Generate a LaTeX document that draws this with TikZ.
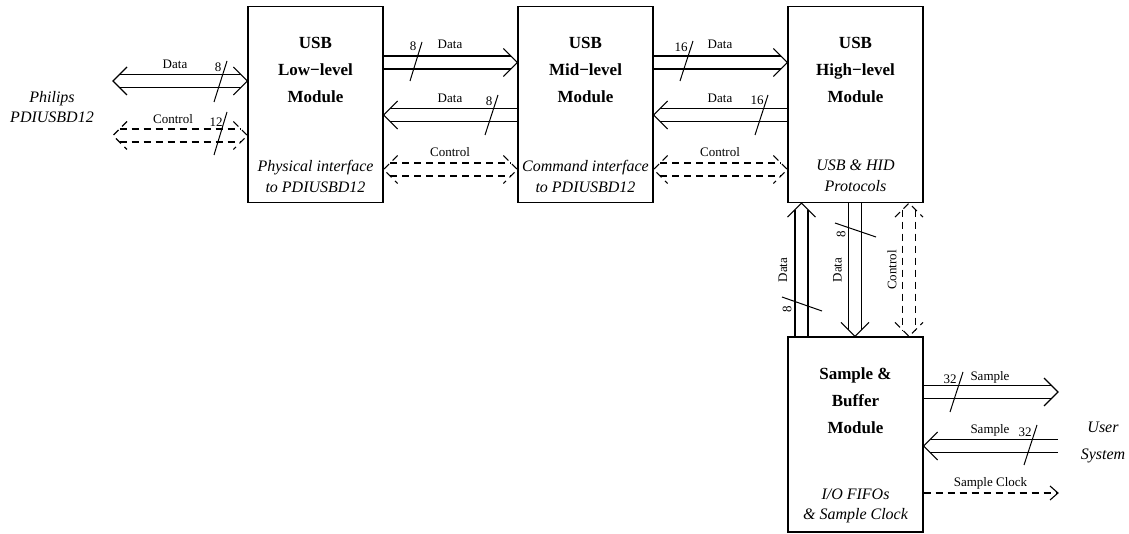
\documentclass[tikz,border=0pt]{standalone}
\usepackage{fontspec}
\setmainfont{Liberation Serif}
\usetikzlibrary{calc}
\tikzset{
  box/.style={draw, line width=1.1pt, minimum width=135pt, minimum height=196pt, inner sep=0pt},
  ln/.style={line width=1.1pt},
  dsh/.style={line width=1.1pt, dash pattern=on 7pt off 5pt},
  lbl/.style={font=\fontsize{13}{15}\selectfont, inner sep=0pt},
  ttl/.style={font=\fontsize{17}{27}\selectfont\bfseries, align=center, inner sep=0pt},
  sub/.style={font=\fontsize{16}{21}\selectfont\itshape, align=center, inner sep=0pt},
  slash/.style={line width=1pt},
}
% double (hollow) arrows: tail #2, tip #3
\newcommand\dR[3][ln]{%
  \draw[#1] ($(#2)+(0,-6.5)$) -- ($(#3)+(-6.5,-6.5)$);
  \draw[#1] ($(#2)+(0,6.5)$) -- ($(#3)+(-6.5,6.5)$);
  \draw[#1] ($(#3)+(-14,-14)$) -- (#3) -- ($(#3)+(-14,14)$);}
\newcommand\dL[3][ln]{%
  \draw[#1] ($(#2)+(0,-6.5)$) -- ($(#3)+(6.5,-6.5)$);
  \draw[#1] ($(#2)+(0,6.5)$) -- ($(#3)+(6.5,6.5)$);
  \draw[#1] ($(#3)+(14,-14)$) -- (#3) -- ($(#3)+(14,14)$);}
\newcommand\dLR[3][ln]{%
  \draw[#1] ($(#2)+(6.5,-6.5)$) -- ($(#3)+(-6.5,-6.5)$);
  \draw[#1] ($(#2)+(6.5,6.5)$) -- ($(#3)+(-6.5,6.5)$);
  \draw[#1] ($(#2)+(14,-14)$) -- (#2) -- ($(#2)+(14,14)$);
  \draw[#1] ($(#3)+(-14,-14)$) -- (#3) -- ($(#3)+(-14,14)$);}
\newcommand\dU[3][ln]{%
  \draw[#1] ($(#2)+(-6.5,0)$) -- ($(#3)+(-6.5,6.5)$);
  \draw[#1] ($(#2)+(6.5,0)$) -- ($(#3)+(6.5,6.5)$);
  \draw[#1] ($(#3)+(-14,14)$) -- (#3) -- ($(#3)+(14,14)$);}
\newcommand\dD[3][ln]{%
  \draw[#1] ($(#2)+(-6.5,0)$) -- ($(#3)+(-6.5,-6.5)$);
  \draw[#1] ($(#2)+(6.5,0)$) -- ($(#3)+(6.5,-6.5)$);
  \draw[#1] ($(#3)+(-14,-14)$) -- (#3) -- ($(#3)+(14,-14)$);}
\newcommand\dUD[3][ln]{%
  \draw[#1] ($(#2)+(-6.5,6.5)$) -- ($(#3)+(-6.5,-6.5)$);
  \draw[#1] ($(#2)+(6.5,6.5)$) -- ($(#3)+(6.5,-6.5)$);
  \draw[#1] ($(#2)+(-14,14)$) -- (#2) -- ($(#2)+(14,14)$);
  \draw[#1] ($(#3)+(-14,-14)$) -- (#3) -- ($(#3)+(14,-14)$);}
\begin{document}
\begin{tikzpicture}[x=1pt,y=-1pt]
\useasboundingbox (0,0) rectangle (1129,534);
% boxes
\node[box] (b1) at (315.5,104.5) {};
\node[box] (b2) at (585.5,104.5) {};
\node[box] (b3) at (855.5,104.5) {};
\node[box, minimum height=195pt] (b4) at (855.5,434.5) {};
% box texts
\node[ttl] (t1) at (315.5,70) {USB\\Low−level\\Module};
\node[sub] (s1) at (315.5,176) {Physical interface\\to PDIUSBD12};
\node[ttl] (t2) at (585.5,70) {USB\\Mid−level\\Module};
\node[sub] (s2) at (585.5,176) {Command interface\\to PDIUSBD12};
\node[ttl] (t3) at (855.5,70) {USB\\High−level\\Module};
\node[sub] (s3) at (855.5,176) {USB \& HID\\Protocols};
\node[ttl] (t4) at (855.5,401) {Sample \&\\Buffer\\Module};
\node[sub, font=\fontsize{16}{20}\selectfont\itshape] (s4) at (855.5,506) {I/O FIFOs\\\& Sample Clock};
% external texts
\node[sub, font=\fontsize{16}{20}\selectfont\itshape] (ph) at (52,107) {Philips\\PDIUSBD12};
\node[sub, font=\fontsize{16}{27}\selectfont\itshape] (us) at (1103,442) {User\\System};
% level coordinates
\coordinate (yA) at (0,62.5);
\coordinate (yB) at (0,115);
\coordinate (yC) at (0,169.5);
\coordinate (xU) at (801.5,0);
\coordinate (xD) at (855,0);
\coordinate (xC) at (909,0);
\coordinate (yO) at (0,392);
\coordinate (yI) at (0,446);
\coordinate (yK) at (0,493);
% left connectors
\coordinate (L1) at (113,81);   \coordinate (L2) at (b1.west |- L1);
\coordinate (L3) at (113,135.5); \coordinate (L4) at (b1.west |- L3);
\dLR{L1}{L2}
\dLR[dsh]{L3}{L4}
% b1 - b2
\coordinate (A1) at (b1.east |- yA); \coordinate (A2) at (b2.west |- yA);
\coordinate (B1) at (b1.east |- yB); \coordinate (B2) at (b2.west |- yB);
\coordinate (C1) at (b1.east |- yC); \coordinate (C2) at (b2.west |- yC);
\dR{A1}{A2}
\dL{B2}{B1}
\dLR[dsh]{C1}{C2}
% b2 - b3
\coordinate (A3) at (b2.east |- yA); \coordinate (A4) at (b3.west |- yA);
\coordinate (B3) at (b2.east |- yB); \coordinate (B4) at (b3.west |- yB);
\coordinate (C3) at (b2.east |- yC); \coordinate (C4) at (b3.west |- yC);
\dR{A3}{A4}
\dL{B4}{B3}
\dLR[dsh]{C3}{C4}
% b3 - b4
\coordinate (U1) at (xU |- b4.north); \coordinate (U2) at (xU |- b3.south);
\coordinate (D1) at (xD |- b3.south); \coordinate (D2) at (xD |- b4.north);
\coordinate (V1) at (xC |- b3.south); \coordinate (V2) at (xC |- b4.north);
\dU{U1}{U2}
\dD{D1}{D2}
\dUD[dsh]{V1}{V2}
% b4 outputs
\coordinate (O1) at (b4.east |- yO); \coordinate (O2) at (1058,392);
\coordinate (I1) at (1058,446);      \coordinate (I2) at (b4.east |- yI);
\coordinate (K1) at (b4.east |- yK); \coordinate (K2) at (1058,493);
\dR{O1}{O2}
\dL{I1}{I2}
\draw[dsh] (K1) -- ($(K2)+(-1,0)$);
\draw[ln] ($(K2)+(-8,-7)$) -- (K2) -- ($(K2)+(-8,7)$);
% bus-width slashes
\draw[slash] (214,102) -- (227,61);
\draw[slash] (214,155) -- (227,112);
\draw[slash] (410,81) -- (422,42);
\draw[slash] (485,135) -- (498,95);
\draw[slash] (680,81) -- (693,41);
\draw[slash] (755,135) -- (768,95);
\draw[slash] (782,297) -- (822,311);
\draw[slash] (835,223) -- (876,237);
\draw[slash] (950,412) -- (963,372);
\draw[slash] (1024,465) -- (1037,425);
% labels
\node[lbl] (la1) at (175,64) {Data};
\node[lbl] (la2) at (218,67) {8};
\node[lbl] (la3) at (173,119) {Control};
\node[lbl] (la4) at (216,122) {12};
\node[lbl] (la5) at (413,46) {8};
\node[lbl] (la6) at (450,44) {Data};
\node[lbl] (la7) at (450,98) {Data};
\node[lbl] (la8) at (489,101) {8};
\node[lbl] (la9) at (450,152) {Control};
\node[lbl] (lb1) at (681,47) {16};
\node[lbl] (lb2) at (720,44) {Data};
\node[lbl] (lb3) at (720,98) {Data};
\node[lbl] (lb4) at (757,100) {16};
\node[lbl] (lb5) at (720,152) {Control};
\node[lbl, rotate=90] (lc1) at (783,270) {Data};
\node[lbl, rotate=90] (lc2) at (787,309) {8};
\node[lbl, rotate=90] (lc3) at (837.5,270) {Data};
\node[lbl, rotate=90] (lc4) at (841,234) {8};
\node[lbl, rotate=90] (lc5) at (892,270) {Control};
\node[lbl] (ld1) at (950,379) {32};
\node[lbl] (ld2) at (990,377) {Sample};
\node[lbl] (ld3) at (990,430) {Sample};
\node[lbl] (ld4) at (1025,432) {32};
\node[lbl] (ld5) at (990.5,483) {Sample Clock};
\end{tikzpicture}
\end{document}
